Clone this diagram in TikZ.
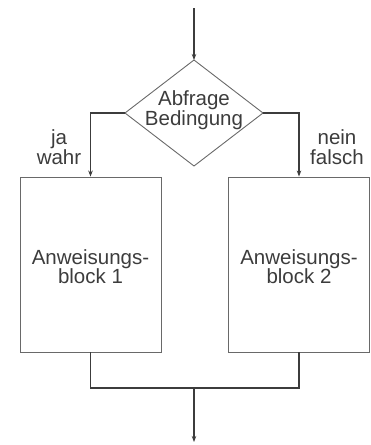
\documentclass[tikz,border=0pt]{standalone}
\usepackage{fontspec}
\setmainfont{Liberation Sans}
\usetikzlibrary{arrows.meta,shapes.geometric}
\definecolor{ink}{RGB}{60,60,60}
\definecolor{frame}{RGB}{105,105,105}
\begin{document}
\begin{tikzpicture}[x=1pt,y=-1pt,
  flow/.style={draw=ink,line width=1.1pt},
  arr/.style={flow,-{Stealth[length=6pt,width=4.5pt]}},
  box/.style={draw=frame,line width=0.9pt,minimum width=141pt,minimum height=175pt,inner sep=0pt,align=center},
  lbl/.style={text=ink,font=\fontsize{20.5}{19.5}\selectfont,align=center,inner sep=0pt}]
  \useasboundingbox (0,0) rectangle (371,445);
  % decision
  \draw[draw=frame,line width=0.9pt] (194,60) coordinate (dt) -- (263,113) coordinate (dr)
     -- (194,166) -- (125,113) coordinate (dl) -- cycle;
  \node[lbl] (cond) at (194,110) {Abfrage\\Bedingung};
  \coordinate (in) at (194,8);
  \draw[arr] (in) -- (dt);
  % blocks
  \node[box] (b1) at (90.5,264.5) {};
  \node[box] (b2) at (299,264.5) {};
  \node[lbl] (t1) at (b1.center) [yshift=-2pt] {Anweisungs-\\block 1};
  \node[lbl] (t2) at (b2.center) [yshift=-2pt] {Anweisungs-\\block 2};
  % branches
  \draw[arr] (dl) -| (b1.north);
  \draw[arr] (dr) -| (b2.north);
  \node[lbl] (yes) at (59,147) {ja\\wahr};
  \node[lbl] (no) at (337,147) {nein\\falsch};
  % merge
  \coordinate (m) at (194,388);
  \coordinate (out) at (194,442);
  \draw[flow] (b1.south) |- (m) -| (b2.south);
  \draw[arr] (m) -- (out);
\end{tikzpicture}
\end{document}
